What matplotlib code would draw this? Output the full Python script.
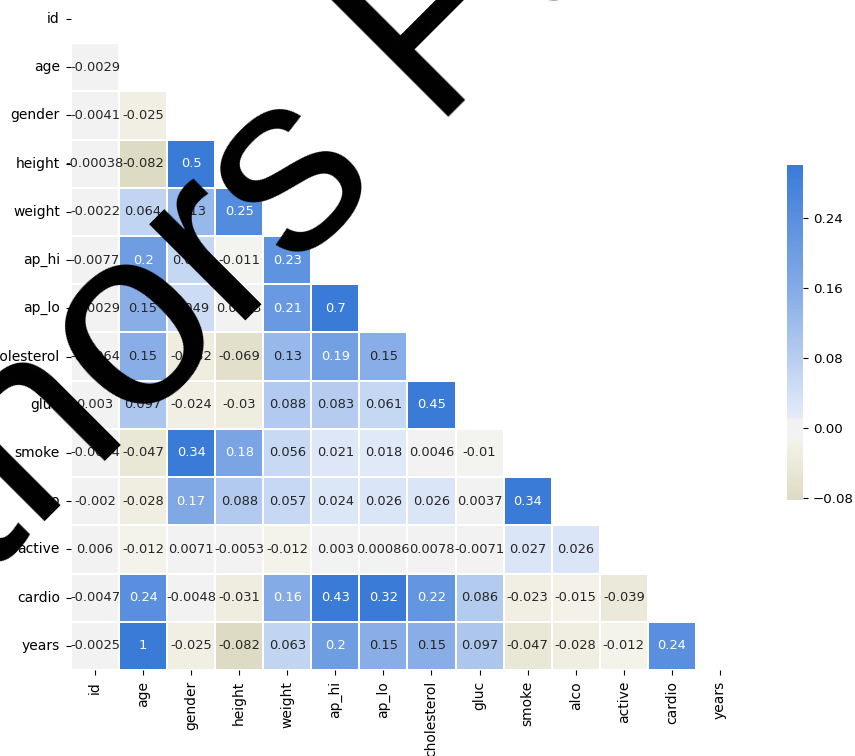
import numpy as np
import pandas as pd
import matplotlib
matplotlib.use("Agg")
import matplotlib.pyplot as plt
from matplotlib.colors import LinearSegmentedColormap
import seaborn as sns

cols = ["id", "age", "gender", "height", "weight", "ap_hi", "ap_lo",
        "cholesterol", "gluc", "smoke", "alco", "active", "cardio", "years"]

# lower triangle of the correlation matrix, one list per row
r_age = [-0.0029]
r_gender = [-0.0041, -0.025]
r_height = [-0.00038, -0.082, 0.5]
r_weight = [-0.0022, 0.064, 0.13, 0.25]
r_ap_hi = [-0.0077, 0.2, 0.059, -0.011, 0.23]
r_ap_lo = [-0.0029, 0.15, 0.049, 0.0063, 0.21, 0.7]
r_cholesterol = [-0.0064, 0.15, -0.032, -0.069, 0.13, 0.19, 0.15]
r_gluc = [0.003, 0.097, -0.024, -0.03, 0.088, 0.083, 0.061, 0.45]
r_smoke = [-0.0034, -0.047, 0.34, 0.18, 0.056, 0.021, 0.018, 0.0046, -0.01]
r_alco = [-0.002, -0.028, 0.17, 0.088, 0.057, 0.024, 0.026, 0.026, 0.0037, 0.34]
r_active = [0.006, -0.012, 0.0071, -0.0053, -0.012, 0.003, 0.00086, 0.0078,
            -0.0071, 0.027, 0.026]
r_cardio = [-0.0047, 0.24, -0.0048, -0.031, 0.16, 0.43, 0.32, 0.22, 0.086,
            -0.023, -0.015, -0.039]
r_years = [-0.0025, 1, -0.025, -0.082, 0.063, 0.2, 0.15, 0.15, 0.097,
           -0.047, -0.028, -0.012, 0.24]

lower = [[], r_age, r_gender, r_height, r_weight, r_ap_hi, r_ap_lo,
         r_cholesterol, r_gluc, r_smoke, r_alco, r_active, r_cardio, r_years]

cbar_ticks = [-0.08, 0.0, 0.08, 0.16, 0.24]

# rebuild the full symmetric matrix
n = len(cols)
m = np.eye(n)
for i, row in enumerate(lower):
    for j, v in enumerate(row):
        m[i, j] = v
        m[j, i] = v
corr = pd.DataFrame(m, index=cols, columns=cols)

mask = np.triu(np.ones_like(corr, dtype=bool))

# olive -> flat grey band around zero -> blue, defined over -0.3..0.3
band = 0.011 / 0.6
stops = [
    (0.0, (151, 142, 79)),
    (0.5 - band, (245, 244, 234)),
    (0.5 - band + 0.001, (242, 242, 242)),
    (0.5 + band - 0.001, (242, 242, 242)),
    (0.5 + band, (228, 236, 249)),
    (0.5 + 0.155 / 0.6, (135, 173, 231)),
    (1.0, (58, 123, 216)),
]
cmap = LinearSegmentedColormap.from_list(
    "olive_blue", [(p, tuple(c / 255 for c in rgb)) for p, rgb in stops])

fig = plt.figure(figsize=(8.55, 7.56), dpi=100)
ax = fig.add_axes([0.083, 0.1138, 0.7871, 0.8929])
cax = fig.add_axes([0.9205, 0.3386, 0.0187, 0.4431])

sns.heatmap(corr, mask=mask, cmap=cmap, vmax=.3, center=0, annot=True,
            linewidths=1.2, ax=ax, cbar_ax=cax, annot_kws={"size": 9.4})

ax.tick_params(labelsize=10, pad=4.5)
ax.set_xticklabels(cols, rotation=90)
ax.set_yticklabels(cols, rotation=0)

cax.set_yticks(cbar_ticks)
cax.tick_params(labelsize=9.6)

fig.text(-0.2788, -0.0645, "Authors Favorite", fontsize=184,
         family="Liberation Sans", rotation=45, rotation_mode="anchor",
         ha="left", va="baseline", color="black", zorder=10)

fig.savefig("out.png", dpi=100)
